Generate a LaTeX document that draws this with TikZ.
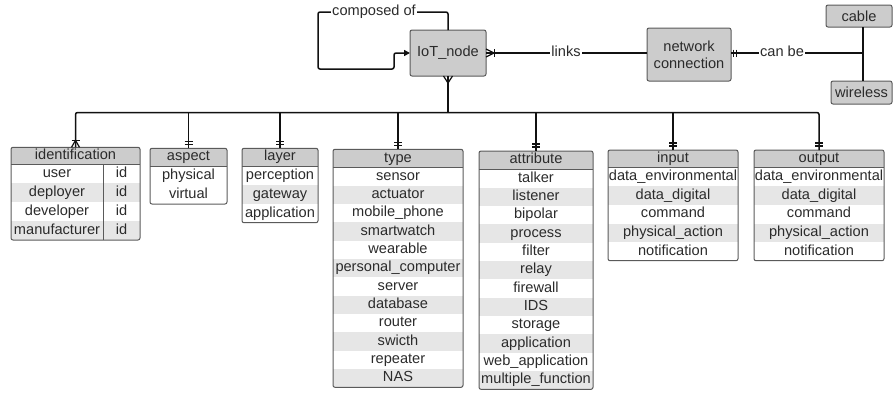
\documentclass[tikz,border=0pt]{standalone}
\usepackage{fontspec}
\setmainfont{Liberation Sans}
\usetikzlibrary{arrows.meta}
\definecolor{txtc}{HTML}{2B2B2B}
\definecolor{hdrc}{HTML}{CCCCCC}
\definecolor{rowc}{HTML}{E6E6E6}
\definecolor{brd}{HTML}{5A5A5A}
\definecolor{lnc}{HTML}{111111}

\newif\ifErshade
\Ershadetrue
% #1 name, #2 left, #3 right, #4 top, #5 header bottom, #6 bottom, #7 title, #8 items, #9 rows
\newcommand\ErTable[9]{%
  \pgfmathsetmacro\ErRowH{(#6-#5)/#9}%
  \begin{scope}
    \clip[rounded corners=2pt] (#2,#4) rectangle (#3,#6);
    \fill[hdrc] (#2,#4) rectangle (#3,#5);
    \ifErshade
    \foreach \itm [count=\i] in {#8} {
      \ifodd\i\relax\else
        \fill[rowc] (#2,{#5+(\i-1)*\ErRowH}) rectangle (#3,{#5+\i*\ErRowH});
      \fi
    }
    \fi
  \end{scope}
  \draw[tblline] (#2,#5) -- (#3,#5);
  \node[tblframe, anchor=north west, minimum width={(#3-#2)*1pt}, minimum height={(#6-#4)*1pt}] (#1) at (#2,#4) {};
  \node[txt] (#1-h) at ({(#2+#3)/2},{(#4+#5)/2}) {#7};
  \foreach \itm [count=\i] in {#8} {
    \node[txt] (#1-\i) at ({(#2+#3)/2},{#5+(\i-0.5)*\ErRowH}) {\itm};
  }
}

\begin{document}
\begin{tikzpicture}[x=1pt,y=-1pt,
  every node/.style={font=\fontsize{14.6}{17}\selectfont, text=txtc},
  txt/.style={inner sep=0pt, text height=10.5pt, text depth=3pt},
  tblframe/.style={draw=brd, line width=1pt, rounded corners=2pt, inner sep=0pt, outer sep=0pt},
  tblline/.style={draw=brd, line width=0.7pt},
  entity/.style={draw=brd, fill=hdrc, line width=1pt, rounded corners=2pt, inner sep=0pt, outer sep=0pt, align=center},
  conn/.style={draw=lnc, line width=1.5pt},
  mk/.style={draw=lnc, line width=1.2pt},
  lbl/.style={fill=white, inner sep=1.5pt, text height=10.5pt, text depth=3pt}
]
\useasboundingbox (0,0) rectangle (893,392);

% entities
\node[entity, minimum width=76pt, minimum height=46pt] (iot) at (448,53) {IoT\_node};
\node[entity, minimum width=84pt, minimum height=53pt] (netconn) at (689,54.5) {network\\connection};
\node[entity, minimum width=66pt, minimum height=22pt] (cable) at (859,16) {cable};
\node[entity, minimum width=61pt, minimum height=23pt] (wireless) at (861.5,92.5) {wireless};
\coordinate (jn) at (863,53);
\coordinate (busy) at (0,112.5);

% tables
\begin{scope}
  \clip[rounded corners=2pt] (11,147.3) rectangle (140,240);
  \fill[hdrc] (11,147.3) rectangle (140,164.3);
  \fill[rowc] (11,183.225) rectangle (140,202.15);
  \fill[rowc] (11,221.075) rectangle (140,240);
\end{scope}
\draw[tblline] (11,164.3) -- (140,164.3);
\draw[tblline] (103,164.3) -- (103,240);
\node[tblframe, anchor=north west, minimum width=129pt, minimum height=92.7pt] (identification) at (11,147.3) {};
\node[txt] (identification-h) at (75.5,155.8) {identification};
\foreach \itm [count=\i] in {user,deployer,developer,manufacturer} {
  \node[txt] (identification-\i) at (57,{164.3+(\i-0.5)*18.925}) {\itm};
  \node[txt] (identification-id\i) at (121.5,{164.3+(\i-0.5)*18.925}) {id};
}

\Ershadefalse
\ErTable{aspect}{150}{227}{148.3}{166}{204}{aspect}{physical,virtual}{2}
\Ershadetrue
\ErTable{layer}{242}{318}{148.3}{166}{222.7}{layer}{perception,gateway,application}{3}
\ErTable{type}{333}{463}{149.3}{167.3}{387.3}{type}{sensor,actuator,mobile\_phone,smartwatch,wearable,personal\_computer,server,database,router,swicth,repeater,NAS}{12}
\ErTable{attribute}{479}{593}{151}{169.3}{389.3}{attribute}{talker,listener,bipolar,process,filter,relay,firewall,IDS,storage,application,web\_application,multiple\_function}{12}
\ErTable{input}{608}{738}{150}{167.7}{260.7}{input}{data\_environmental,data\_digital,command,physical\_action,notification}{5}
\ErTable{output}{754}{884}{150}{167.7}{260.7}{output}{data\_environmental,data\_digital,command,physical\_action,notification}{5}

% composed of loop
\draw[conn, rounded corners=2pt, -{Triangle[length=6pt,width=6pt]}] (iot.north) |- (318,12) |- (394,69) |- (iot.west);
\node[lbl] (lcomp) at (374,12) {composed of};

% links
\draw[conn] (iot.east) -- (netconn.west |- iot.east);
\node[lbl] (llinks) at (566,53) {links};
\draw[mk] ([yshift=4pt]iot.east) -- ([xshift=8pt]iot.east) -- ([yshift=-4pt]iot.east);
\draw[mk] ([xshift=8.5pt,yshift=4pt]iot.east) -- ([xshift=8.5pt,yshift=-4pt]iot.east);

% can be
\draw[conn] (netconn.east |- jn) -- (jn);
\draw[conn] (cable.south -| jn) -- (wireless.north -| jn);
\node[lbl] (lcanbe) at (782,53) {can be};
\draw[mk] ([xshift=2.5pt,yshift=3.5pt]netconn.east |- jn) -- ([xshift=2.5pt,yshift=-3.5pt]netconn.east |- jn);
\draw[mk] ([xshift=5.5pt,yshift=3.5pt]netconn.east |- jn) -- ([xshift=5.5pt,yshift=-3.5pt]netconn.east |- jn);

% bus
\draw[conn] (iot.south) -- (iot.south |- busy);
\draw[conn, rounded corners=2pt] (identification.north) |- (iot.south |- busy) -| (output.north);
\foreach \t in {aspect,layer,type,attribute,input} {
  \draw[conn] (\t.north) -- (\t.north |- busy);
}
% crow's foot at IoT bottom
\draw[mk] ([xshift=-4.5pt]iot.south) -- ([yshift=-7pt]iot.south) -- ([xshift=4.5pt]iot.south);
% identification: one or many
\draw[mk] ([xshift=-4pt]identification.north) -- ([yshift=7pt]identification.north) -- ([xshift=4pt]identification.north);
\draw[mk] ([xshift=-4pt,yshift=7pt]identification.north) -- ([xshift=4pt,yshift=7pt]identification.north);
% one and only one
\foreach \t in {aspect,layer,type,attribute,input,output} {
  \draw[mk] ([xshift=-4pt,yshift=4pt]\t.north) -- ([xshift=4pt,yshift=4pt]\t.north);
  \draw[mk] ([xshift=-4pt,yshift=7pt]\t.north) -- ([xshift=4pt,yshift=7pt]\t.north);
}
\end{tikzpicture}
\end{document}
